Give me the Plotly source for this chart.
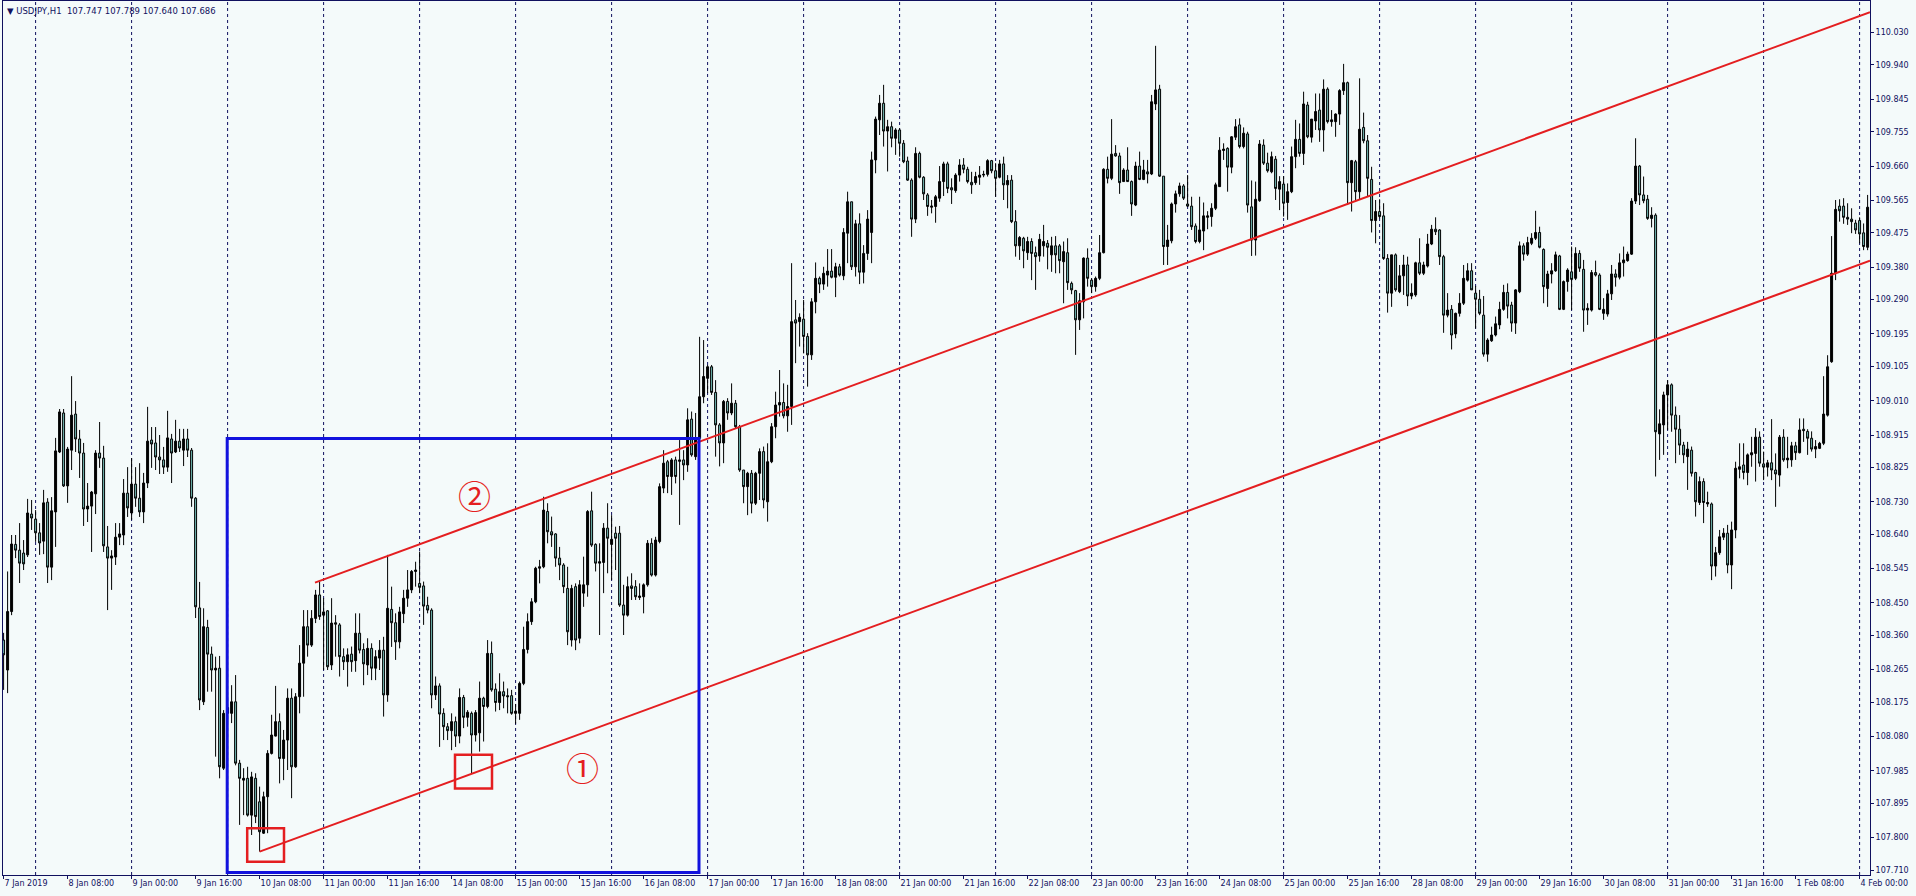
import plotly.graph_objects as go

# ---------------- data (USDJPY H1, bar index 0 = 7 Jan 2019 16:00) ----------------
opens = [
108.347,108.264,108.426,108.612,108.596,108.588,108.583,108.696,108.682,108.644,
108.621,108.729,108.549,108.702,108.868,108.976,108.774,108.873,108.973,108.904,
108.865,108.710,108.718,108.752,108.865,108.851,108.605,108.574,108.577,108.632,
108.638,108.754,108.699,108.779,108.740,108.702,108.782,108.901,108.893,108.854,
108.846,108.826,108.904,108.868,108.898,108.873,108.904,108.873,108.740,108.436,
108.176,108.382,108.308,108.264,108.269,107.992,108.160,108.144,108.176,108.006,
107.959,107.964,107.862,107.964,107.899,107.812,107.913,108.033,108.081,108.121,
108.019,108.070,108.186,107.996,108.190,108.283,108.384,108.333,108.407,108.472,
108.416,108.428,108.278,108.395,108.389,108.301,108.287,108.308,108.290,108.366,
108.321,108.278,108.324,108.269,108.297,108.319,108.195,108.432,108.395,108.342,
108.420,108.463,108.486,108.537,108.504,108.497,108.443,108.430,108.195,108.220,
108.144,108.107,108.096,108.121,108.081,108.188,108.133,108.144,108.084,108.090,
108.186,108.163,108.310,108.211,108.174,108.204,108.193,108.193,108.144,108.144,
108.227,108.321,108.398,108.453,108.546,108.550,108.703,108.647,108.641,108.574,
108.555,108.490,108.347,108.495,108.352,108.477,108.500,108.705,108.612,108.560,
108.562,108.657,108.612,108.643,108.643,108.444,108.416,108.497,108.495,108.465,
108.467,108.500,108.615,108.527,108.620,108.768,108.841,108.800,108.846,108.842,
108.846,108.832,108.959,108.855,108.906,109.021,109.072,109.104,109.033,108.943,
108.893,109.008,108.976,109.003,108.938,108.818,108.772,108.809,108.726,108.809,
108.869,108.730,108.841,108.938,108.998,109.005,108.968,108.994,109.234,109.229,
109.236,109.188,109.137,109.284,109.349,109.333,109.358,109.369,109.352,109.381,
109.356,109.474,109.561,109.381,109.500,109.366,109.418,109.476,109.677,109.788,
109.834,109.757,109.769,109.737,109.760,109.723,109.674,109.621,109.513,109.695,
109.629,109.580,109.546,109.548,109.571,109.617,109.666,109.600,109.592,109.635,
109.663,109.651,109.615,109.614,109.629,109.635,109.637,109.675,109.647,109.629,
109.666,109.608,109.621,109.506,109.439,109.460,109.420,109.451,109.420,109.411,
109.439,109.446,109.414,109.439,109.439,109.395,109.420,109.335,109.315,109.234,
109.284,109.405,109.344,109.326,109.349,109.420,109.651,109.626,109.695,109.688,
109.617,109.649,109.617,109.552,109.660,109.623,109.644,109.638,109.832,109.873,
109.632,109.437,109.453,109.555,109.583,109.605,109.555,109.549,109.494,109.451,
109.480,109.518,109.520,109.543,109.603,109.703,109.709,109.657,109.740,109.774,
109.714,109.749,109.547,109.455,109.564,109.718,109.668,109.644,109.679,109.596,
109.610,109.559,109.589,109.686,109.734,109.695,109.829,109.740,109.785,109.815,
109.760,109.873,109.783,109.783,109.804,109.869,109.891,109.614,109.672,109.589,
109.767,109.730,109.623,109.509,109.534,109.522,109.404,109.308,109.414,109.312,
109.356,109.386,109.300,109.303,109.392,109.363,109.383,109.444,109.485,109.483,
109.409,109.247,109.263,109.195,109.252,109.280,109.344,109.370,109.308,109.291,
109.247,109.139,109.176,109.192,109.220,109.263,109.310,109.275,109.225,109.312,
109.439,109.416,109.446,109.460,109.476,109.429,109.321,109.361,109.370,109.411,
109.263,109.340,109.367,109.349,109.418,109.374,109.261,109.261,109.365,109.358,
109.252,109.250,109.306,109.361,109.352,109.392,109.398,109.416,109.563,109.660,
109.580,109.568,109.515,109.524,108.918,108.943,109.026,109.054,108.970,108.931,
108.887,108.855,108.873,108.811,108.728,108.786,108.724,108.724,108.552,108.589,
108.632,108.643,108.555,108.652,108.820,108.832,108.811,108.860,108.864,108.909,
108.835,108.826,108.838,108.818,108.804,108.909,108.846,108.846,108.885,108.866,
108.931,108.925,108.906,108.876,108.878,108.892,108.970,109.118,109.363,109.549,
109.549,109.518,109.513,109.502,109.509,109.475,109.435]

highs = [
108.367,108.537,108.638,108.638,108.671,108.624,108.738,108.735,108.707,108.671,
108.763,108.740,108.743,108.907,108.987,108.987,108.882,109.078,109.009,108.929,
108.893,108.782,108.760,108.873,108.951,108.885,108.663,108.596,108.671,108.671,
108.793,108.826,108.851,108.826,108.837,108.810,108.993,108.937,108.937,108.915,
108.882,108.982,108.918,108.957,108.932,108.932,108.932,108.879,108.743,108.508,
108.435,108.403,108.329,108.301,108.303,108.153,108.190,108.222,108.250,108.015,
107.992,107.996,107.982,107.978,107.941,107.927,108.042,108.140,108.220,108.144,
108.098,108.213,108.213,108.200,108.333,108.430,108.430,108.430,108.486,108.509,
108.463,108.430,108.463,108.416,108.394,108.324,108.324,108.329,108.421,108.421,
108.338,108.352,108.338,108.319,108.347,108.356,108.583,108.495,108.421,108.439,
108.486,108.541,108.541,108.564,108.592,108.509,108.467,108.435,108.246,108.227,
108.158,108.117,108.144,108.135,108.213,108.195,108.153,108.149,108.153,108.232,
108.190,108.347,108.343,108.227,108.255,108.232,108.213,108.209,108.170,108.232,
108.384,108.421,108.463,108.550,108.569,108.744,108.726,108.689,108.643,108.605,
108.560,108.550,108.500,108.504,108.513,108.578,108.707,108.758,108.615,108.615,
108.671,108.726,108.693,108.661,108.663,108.500,108.523,108.532,108.513,108.504,
108.504,108.624,108.629,108.633,108.781,108.873,108.846,108.851,108.855,108.901,
108.873,108.989,108.980,108.976,109.187,109.178,109.109,109.109,109.067,108.948,
109.012,109.017,109.058,109.012,108.943,108.818,108.813,108.818,108.813,108.878,
108.883,108.892,108.948,109.035,109.095,109.058,109.054,109.391,109.289,109.252,
109.289,109.197,109.294,109.393,109.354,109.381,109.430,109.430,109.392,109.389,
109.488,109.589,109.561,109.511,109.529,109.441,109.538,109.700,109.797,109.857,
109.885,109.788,109.783,109.765,109.765,109.732,109.686,109.626,109.712,109.700,
109.632,109.585,109.566,109.580,109.660,109.672,109.672,109.626,109.640,109.679,
109.682,109.658,109.644,109.644,109.660,109.647,109.679,109.677,109.668,109.677,
109.686,109.635,109.635,109.538,109.466,109.464,109.464,109.460,109.437,109.472,
109.497,109.455,109.464,109.466,109.444,109.451,109.460,109.340,109.317,109.308,
109.407,109.432,109.349,109.354,109.469,109.654,109.686,109.790,109.718,109.697,
109.654,109.712,109.620,109.672,109.700,109.677,109.677,109.857,109.993,109.885,
109.632,109.497,109.559,109.592,109.614,109.610,109.635,109.575,109.501,109.575,
109.559,109.535,109.557,109.614,109.740,109.723,109.712,109.743,109.790,109.792,
109.767,109.755,109.620,109.617,109.732,109.734,109.697,109.700,109.688,109.632,
109.632,109.612,109.714,109.788,109.778,109.866,109.838,109.790,109.861,109.861,
109.900,109.878,109.815,109.806,109.873,109.943,109.894,109.677,109.677,109.903,
109.808,109.746,109.658,109.566,109.568,109.557,109.416,109.414,109.418,109.386,
109.414,109.409,109.335,109.395,109.460,109.395,109.472,109.497,109.518,109.485,
109.414,109.308,109.275,109.254,109.308,109.386,109.391,109.391,109.328,109.317,
109.300,109.183,109.215,109.243,109.284,109.331,109.335,109.284,109.319,109.451,
109.446,109.464,109.474,109.536,109.492,109.432,109.370,109.391,109.423,109.414,
109.343,109.377,109.437,109.435,109.427,109.400,109.280,109.372,109.398,109.363,
109.294,109.317,109.386,109.374,109.418,109.437,109.423,109.571,109.737,109.663,
109.631,109.580,109.546,109.529,108.986,109.035,109.067,109.058,108.994,108.970,
108.896,108.896,108.883,108.813,108.800,108.795,108.758,108.728,108.605,108.652,
108.657,108.666,108.675,108.841,108.892,108.892,108.864,108.910,108.934,108.925,
108.869,108.846,108.959,108.864,108.915,108.931,108.910,108.896,108.896,108.961,
108.961,108.931,108.925,108.901,108.896,109.078,109.136,109.466,109.566,109.568,
109.571,109.557,109.543,109.511,109.518,109.501,109.580]

lows = [
108.209,108.200,108.416,108.574,108.505,108.541,108.577,108.652,108.619,108.583,
108.585,108.505,108.513,108.605,108.865,108.771,108.727,108.818,108.868,108.796,
108.663,108.674,108.591,108.696,108.824,108.591,108.430,108.486,108.555,108.610,
108.610,108.688,108.680,108.716,108.688,108.671,108.768,108.824,108.818,108.807,
108.807,108.813,108.782,108.865,108.868,108.829,108.854,108.716,108.408,108.153,
108.167,108.204,108.204,108.024,107.964,107.987,108.120,108.117,108.000,107.835,
107.862,107.858,107.807,107.840,107.761,107.810,107.812,108.030,108.080,107.950,
107.959,107.987,107.909,107.993,108.144,108.190,108.301,108.328,108.394,108.403,
108.264,108.264,108.264,108.301,108.246,108.264,108.218,108.259,108.259,108.310,
108.222,108.250,108.236,108.236,108.264,108.135,108.176,108.328,108.292,108.324,
108.394,108.439,108.477,108.495,108.477,108.389,108.421,108.158,108.181,108.051,
108.070,108.070,108.042,108.051,108.061,108.103,108.107,107.978,108.066,108.038,
108.066,108.158,108.204,108.149,108.153,108.158,108.144,108.140,108.115,108.126,
108.222,108.310,108.389,108.449,108.504,108.546,108.615,108.605,108.550,108.513,
108.477,108.333,108.329,108.319,108.338,108.439,108.467,108.605,108.537,108.361,
108.477,108.532,108.513,108.541,108.439,108.361,108.412,108.458,108.458,108.458,
108.421,108.495,108.523,108.523,108.615,108.754,108.754,108.749,108.781,108.666,
108.790,108.813,108.855,108.846,108.901,109.003,109.031,109.026,108.855,108.828,
108.837,108.957,108.970,108.934,108.813,108.726,108.693,108.698,108.721,108.735,
108.712,108.675,108.837,108.906,108.966,108.961,108.924,108.943,109.114,109.160,
109.141,109.049,109.123,109.252,109.308,109.317,109.326,109.349,109.297,109.354,
109.344,109.391,109.372,109.354,109.333,109.335,109.400,109.391,109.640,109.746,
109.714,109.645,109.712,109.691,109.686,109.668,109.619,109.464,109.502,109.626,
109.566,109.522,109.529,109.503,109.561,109.577,109.585,109.555,109.586,109.617,
109.640,109.612,109.583,109.608,109.608,109.629,109.631,109.640,109.575,109.626,
109.566,109.543,109.502,109.409,109.400,109.377,109.400,109.344,109.317,109.395,
109.409,109.374,109.367,109.363,109.363,109.280,109.317,109.305,109.137,109.206,
109.238,109.326,109.308,109.312,109.344,109.418,109.612,109.621,109.686,109.583,
109.617,109.617,109.522,109.549,109.621,109.621,109.612,109.635,109.815,109.630,
109.386,109.386,109.446,109.531,109.575,109.566,109.547,109.483,109.446,109.446,
109.427,109.485,109.492,109.538,109.603,109.677,109.589,109.640,109.732,109.709,
109.709,109.531,109.411,109.412,109.561,109.663,109.642,109.640,109.566,109.538,
109.520,109.511,109.585,109.654,109.686,109.663,109.737,109.725,109.760,109.727,
109.700,109.778,109.769,109.741,109.774,109.857,109.552,109.534,109.566,109.566,
109.723,109.575,109.476,109.446,109.515,109.400,109.254,109.270,109.312,109.308,
109.303,109.272,109.291,109.298,109.358,109.358,109.379,109.441,109.469,109.386,
109.198,109.241,109.152,109.183,109.243,109.275,109.340,109.317,109.210,109.247,
109.132,109.118,109.173,109.188,109.208,109.259,109.238,109.201,109.195,109.308,
109.398,109.411,109.441,109.455,109.432,109.280,109.270,109.335,109.367,109.261,
109.261,109.312,109.261,109.344,109.367,109.201,109.220,109.257,109.354,109.261,
109.234,109.243,109.289,109.326,109.346,109.354,109.395,109.414,109.555,109.552,
109.557,109.511,109.490,108.800,108.846,108.860,108.929,108.924,108.837,108.860,
108.837,108.763,108.800,108.689,108.721,108.671,108.716,108.513,108.523,108.583,
108.624,108.532,108.488,108.629,108.795,108.792,108.776,108.827,108.786,108.827,
108.790,108.800,108.790,108.716,108.772,108.841,108.823,108.827,108.846,108.864,
108.896,108.860,108.869,108.851,108.876,108.887,108.966,109.115,109.344,109.506,
109.500,109.497,109.474,109.472,109.446,109.427,109.427]

closes = [
108.306,108.426,108.613,108.596,108.560,108.558,108.699,108.685,108.644,108.616,
108.727,108.549,108.705,108.871,108.979,108.774,108.876,108.970,108.904,108.865,
108.710,108.718,108.757,108.865,108.851,108.608,108.574,108.580,108.632,108.641,
108.754,108.713,108.779,108.740,108.702,108.782,108.898,108.890,108.854,108.846,
108.826,108.907,108.865,108.898,108.879,108.904,108.873,108.740,108.439,108.181,
108.384,108.308,108.264,108.269,107.996,108.144,108.144,108.176,108.006,107.964,
107.964,107.862,107.968,107.858,107.816,107.913,108.033,108.084,108.121,108.019,
108.070,108.186,107.996,108.190,108.283,108.384,108.333,108.407,108.472,108.412,
108.425,108.273,108.394,108.391,108.301,108.287,108.306,108.287,108.366,108.319,
108.281,108.324,108.269,108.301,108.319,108.195,108.435,108.395,108.342,108.425,
108.463,108.486,108.537,108.541,108.493,108.441,108.430,108.195,108.220,108.142,
108.107,108.096,108.121,108.081,108.188,108.133,108.147,108.084,108.146,108.186,
108.163,108.310,108.209,108.174,108.204,108.192,108.190,108.144,108.150,108.227,
108.321,108.398,108.453,108.546,108.550,108.707,108.647,108.638,108.574,108.555,
108.495,108.370,108.490,108.347,108.500,108.500,108.703,108.610,108.560,108.564,
108.657,108.629,108.626,108.629,108.444,108.416,108.495,108.490,108.467,108.469,
108.500,108.615,108.527,108.624,108.772,108.837,108.800,108.846,108.800,108.846,
108.832,108.957,108.860,108.901,109.021,109.077,109.104,109.033,108.943,108.893,
109.008,108.976,109.003,108.938,108.818,108.772,108.809,108.726,108.809,108.869,
108.735,108.841,108.938,108.998,109.005,108.968,108.994,109.229,109.225,109.241,
109.188,109.137,109.284,109.349,109.333,109.363,109.369,109.352,109.381,109.358,
109.476,109.561,109.381,109.500,109.366,109.418,109.513,109.677,109.790,109.834,
109.757,109.769,109.737,109.760,109.723,109.672,109.621,109.513,109.695,109.629,
109.583,109.548,109.549,109.575,109.617,109.666,109.598,109.594,109.635,109.663,
109.651,109.617,109.608,109.631,109.635,109.637,109.675,109.647,109.626,109.666,
109.608,109.620,109.506,109.439,109.462,109.425,109.451,109.418,109.409,109.457,
109.451,109.435,109.439,109.414,109.398,109.423,109.337,109.317,109.234,109.287,
109.405,109.349,109.326,109.349,109.420,109.651,109.626,109.693,109.688,109.614,
109.649,109.617,109.555,109.660,109.623,109.649,109.638,109.838,109.871,109.632,
109.437,109.455,109.555,109.583,109.605,109.571,109.549,109.492,109.451,109.483,
109.522,109.522,109.543,109.608,109.704,109.707,109.657,109.741,109.769,109.714,
109.751,109.552,109.455,109.568,109.721,109.668,109.647,109.686,109.598,109.617,
109.557,109.589,109.686,109.734,109.695,109.832,109.741,109.790,109.811,109.760,
109.873,109.783,109.788,109.804,109.869,109.891,109.614,109.675,109.589,109.762,
109.730,109.626,109.509,109.534,109.520,109.404,109.308,109.414,109.317,109.356,
109.386,109.300,109.308,109.392,109.363,109.386,109.444,109.485,109.478,109.409,
109.247,109.261,109.192,109.252,109.280,109.349,109.370,109.317,109.291,109.252,
109.139,109.178,109.192,109.223,109.263,109.310,109.272,109.225,109.317,109.439,
109.416,109.448,109.460,109.476,109.435,109.326,109.361,109.370,109.414,109.263,
109.340,109.372,109.346,109.418,109.377,109.261,109.266,109.365,109.358,109.263,
109.263,109.306,109.361,109.352,109.392,109.400,109.416,109.563,109.660,109.580,
109.564,109.515,109.524,108.924,108.946,109.026,109.054,108.970,108.931,108.887,
108.860,108.876,108.809,108.730,108.786,108.728,108.728,108.552,108.589,108.633,
108.643,108.555,108.652,108.823,108.827,108.811,108.860,108.866,108.909,108.837,
108.826,108.838,108.818,108.807,108.909,108.846,108.851,108.885,108.866,108.929,
108.927,108.906,108.876,108.883,108.892,108.973,109.104,109.363,109.540,109.536,
109.518,109.513,109.506,109.483,109.472,109.437,109.546]

bars = list(range(len(opens)))

time_labels = ["7 Jan 2019", "8 Jan 08:00", "9 Jan 00:00", "9 Jan 16:00", "10 Jan 08:00",
               "11 Jan 00:00", "11 Jan 16:00", "14 Jan 08:00", "15 Jan 00:00", "15 Jan 16:00",
               "16 Jan 08:00", "17 Jan 00:00", "17 Jan 16:00", "18 Jan 08:00", "21 Jan 00:00",
               "21 Jan 16:00", "22 Jan 08:00", "23 Jan 00:00", "23 Jan 16:00", "24 Jan 08:00",
               "25 Jan 00:00", "25 Jan 16:00", "28 Jan 08:00", "29 Jan 00:00", "29 Jan 16:00",
               "30 Jan 08:00", "31 Jan 00:00", "31 Jan 16:00", "1 Feb 08:00", "4 Feb 00:00"]
bars_per_label = 16
first_midnight_bar = 8
bars_per_day = 24

price_labels = ["110.030", "109.940", "109.845", "109.755", "109.660", "109.565", "109.475",
                "109.380", "109.290", "109.195", "109.105", "109.010", "108.915", "108.825",
                "108.730", "108.640", "108.545", "108.450", "108.360", "108.265", "108.175",
                "108.080", "107.985", "107.895", "107.800", "107.710"]

# analyst drawings (bar index, price)
lower_line_bars = [64, 466.6]
lower_line_prices = [107.761, 109.398]
upper_line_bars = [77.85, 466.6]
upper_line_prices = [108.506, 110.086]
box_bars = [55.9, 173.85]
box_prices = [107.703, 108.905]
square1_bars = [60.9, 70.1]
square1_prices = [107.733, 107.826]
square2_bars = [112.85, 122.1]
square2_prices = [107.936, 108.029]
label1 = ("①", 144.7, 107.996)
label2 = ("②", 117.6, 108.749)

title_text = "▼ USDJPY,H1\u00a0 107.747 107.789 107.640 107.686"

# ---------------- styling ----------------
BG = "#F4FAFA"
NAVY = "#10105E"
TEAL = "#74BDB6"
RED = "#E41E20"
BLUE = "#1212DE"
FONT = "DejaVu Sans, Tahoma, sans-serif"

fig = go.Figure()

fig.add_trace(go.Candlestick(
    x=bars, open=opens, high=highs, low=lows, close=closes,
    increasing=dict(line=dict(color="black", width=1), fillcolor="black"),
    decreasing=dict(line=dict(color="black", width=1), fillcolor=TEAL),
    whiskerwidth=0, showlegend=False, hoverinfo="x+y"))

for bx, py in ((lower_line_bars, lower_line_prices), (upper_line_bars, upper_line_prices)):
    fig.add_trace(go.Scatter(x=bx, y=py, mode="lines", line=dict(color=RED, width=2),
                             showlegend=False, hoverinfo="skip"))

shapes = []
for b in range(first_midnight_bar, len(bars), bars_per_day):
    shapes.append(dict(type="line", xref="x", yref="paper", x0=b, x1=b, y0=0, y1=1,
                       layer="below", line=dict(color=NAVY, width=1, dash="3px,3px")))
shapes.append(dict(type="rect", xref="x", yref="y", x0=box_bars[0], x1=box_bars[1],
                   y0=box_prices[0], y1=box_prices[1], line=dict(color=BLUE, width=3),
                   fillcolor="rgba(0,0,0,0)"))
for sb, sp in ((square1_bars, square1_prices), (square2_bars, square2_prices)):
    shapes.append(dict(type="rect", xref="x", yref="y", x0=sb[0], x1=sb[1], y0=sp[0], y1=sp[1],
                       line=dict(color=RED, width=2.5), fillcolor="rgba(0,0,0,0)"))

annotations = [
    dict(xref="paper", yref="paper", x=0, y=1, xanchor="left", yanchor="top",
         xshift=2, yshift=-3, text=title_text, showarrow=False,
         font=dict(family=FONT, size=8.5, color=NAVY)),
]
for txt, bx, py in (label1, label2):
    annotations.append(dict(xref="x", yref="y", x=bx, y=py, text=txt, showarrow=False,
                            xanchor="center", yanchor="middle",
                            font=dict(family="Noto Sans CJK JP", size=33, color=RED)))

fig.update_layout(
    width=1916, height=896,
    margin=dict(l=3, r=46, t=1, b=21, pad=0),
    paper_bgcolor=BG, plot_bgcolor=BG,
    shapes=shapes, annotations=annotations,
    showlegend=False,
    xaxis=dict(
        range=[-0.15, 466.6], rangeslider=dict(visible=False),
        tickmode="array",
        tickvals=[i * bars_per_label for i in range(len(time_labels))],
        ticktext=time_labels,
        ticks="outside", ticklen=3, tickcolor=NAVY, tickwidth=1,
        ticklabelposition="outside right",
        tickfont=dict(family=FONT, size=8, color=NAVY),
        showgrid=False, zeroline=False,
        showline=True, linecolor=NAVY, linewidth=1, mirror=True,
        automargin=False, fixedrange=True),
    yaxis=dict(
        side="right", range=[107.6962, 110.1172],
        tickmode="array", tickvals=[float(p) for p in price_labels], ticktext=price_labels,
        ticks="outside", ticklen=3, tickcolor=NAVY, tickwidth=1,
        tickfont=dict(family=FONT, size=8, color=NAVY),
        showgrid=False, zeroline=False,
        showline=True, linecolor=NAVY, linewidth=1, mirror=True,
        automargin=False, fixedrange=True),
)

fig.write_html(
    "out.html",
    config={"displayModeBar": False},
    post_script="document.body.style.margin='0';document.body.style.padding='0';"
                "document.body.style.background='" + BG + "';",
)
